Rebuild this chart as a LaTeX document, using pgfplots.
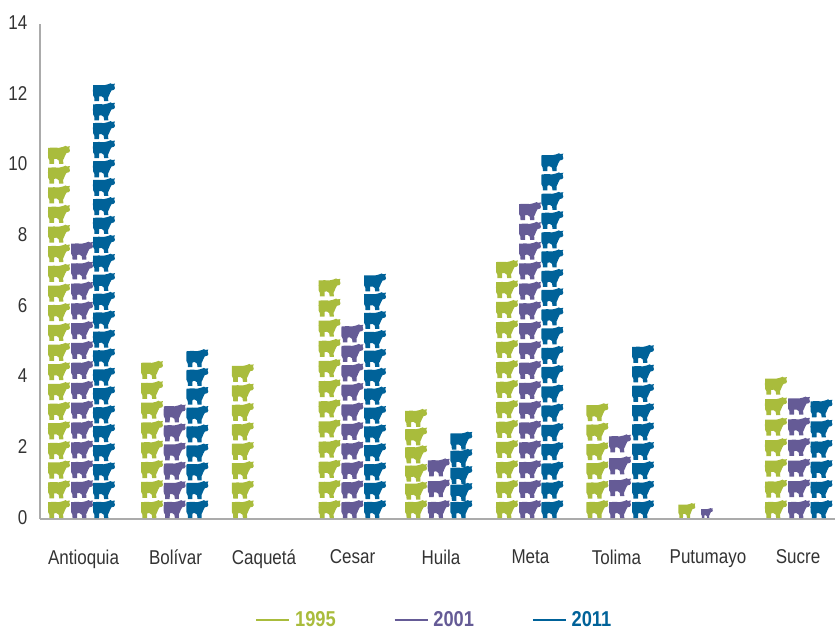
\documentclass[border=0pt]{standalone}
\usepackage{fontspec}
\setmainfont[FakeStretch=0.85]{Liberation Sans}
\usepackage{pgfplots}
\pgfplotsset{compat=1.18}
\definecolor{cg}{HTML}{A9BC3C}
\definecolor{cp}{HTML}{655B96}
\definecolor{cb}{HTML}{006299}
\definecolor{axg}{HTML}{ABABAB}
\definecolor{txt}{HTML}{333333}
\newcommand{\cm}[2]{\pgfpathmoveto{\pgfqpoint{#1pt}{#2pt}}}
\newcommand{\cl}[2]{\pgfpathlineto{\pgfqpoint{#1pt}{#2pt}}}
\pgfdeclareplotmark{cow}{%
 \cm{-10.8}{7}\cl{-5}{7.2}\cl{0}{7}\cl{3.5}{7.8}\cl{5.5}{8.5}\cl{6.5}{9}\cl{8}{8.2}\cl{11}{8.6}
 \cl{10.3}{6.8}\cl{11}{4}\cl{10}{2.4}\cl{7.5}{1.8}\cl{6}{-1}\cl{5}{-3.5}\cl{4.2}{-5}\cl{4.3}{-9}
 \cl{0.2}{-9}\cl{-0.3}{-5.5}\cl{-2.5}{-4}\cl{-4.8}{-4.2}\cl{-5}{-9}\cl{-9.5}{-9}
 \cl{-9.6}{-5.5}\cl{-10.9}{-3}\cl{-11}{2}\pgfpathclose\pgfusepathqfill}
\begin{document}
\begin{tikzpicture}
\path[use as bounding box] (-40pt,-110pt) rectangle (795pt,24pt+495pt);
\begin{axis}[
 at={(0pt,0pt)},anchor=south west,
 scale only axis,width=795pt,height=495pt,
 xmin=-0.48,xmax=8.393,ymin=0,ymax=14,
 axis x line=bottom,axis y line=left,
 axis line style={axg,line width=1.1pt,-},
 tick style={draw=none},
 clip=false,
 ytick={0,2,...,14},
 xtick={0.006,1.032,2.02,3.008,3.996,4.994,5.954,6.975,7.98},
 xticklabels={Antioquia,Bolívar,Caquetá,Cesar,Huila,Meta,Tolima,Putumayo,Sucre},
 /pgf/number format/assume math mode=true,
 tick label style={font=\fontsize{20}{24}\selectfont,text=txt},
 xticklabel style={yshift=-25pt},
 yticklabel style={xshift=-7pt,yshift=1.5pt},
 legend columns=3,
 legend style={at={(0.498,-0.204)},anchor=center,draw=none,fill=none,
   font=\fontsize{21.5}{25}\selectfont\bfseries,
   nodes={inner xsep=5pt},
   /tikz/every even column/.append style={column sep=53pt}},
 legend image code/.code={\draw[#1,mark=none,line width=1.6pt] (0pt,0pt) -- (33pt,0pt);},
]
\addplot[only marks,mark=cow,color=cg,mark options={fill=cg,draw=none}] coordinates {
 (-0.268,.28)(-0.268,.84)(-0.268,1.40)(-0.268,1.95)(-0.268,2.51)(-0.268,3.06)(-0.268,3.62)(-0.268,4.18)(-0.268,4.73)(-0.268,5.29)(-0.268,5.85)(-0.268,6.40)(-0.268,6.96)(-0.268,7.52)(-0.268,8.07)(-0.268,8.63)(-0.268,9.18)(-0.268,9.74)(-0.268,10.30)
 (0.770,.28)(0.770,.85)(0.770,1.41)(0.770,1.97)(0.770,2.53)(0.770,3.09)(0.770,3.65)(0.770,4.22)
 (1.783,.28)(1.783,.83)(1.783,1.38)(1.783,1.93)(1.783,2.48)(1.783,3.03)(1.783,3.58)(1.783,4.13)
 (2.751,.28)(2.751,.85)(2.751,1.42)(2.751,1.99)(2.751,2.56)(2.751,3.13)(2.751,3.70)(2.751,4.27)(2.751,4.84)(2.751,5.41)(2.751,5.98)(2.751,6.55)
 (3.717,.28)(3.717,.80)(3.717,1.31)(3.717,1.83)(3.717,2.34)(3.717,2.86)
 (4.732,.28)(4.732,.85)(4.732,1.41)(4.732,1.98)(4.732,2.55)(4.732,3.11)(4.732,3.68)(4.732,4.24)(4.732,4.81)(4.732,5.37)(4.732,5.94)(4.732,6.50)(4.732,7.07)
 (5.740,.28)(5.740,.83)(5.740,1.38)(5.740,1.92)(5.740,2.47)(5.740,3.02)
 (7.734,.28)(7.734,.86)(7.734,1.45)(7.734,2.03)(7.734,2.61)(7.734,3.19)(7.734,3.77)
};
\addlegendentry{\textcolor{cg}{1995}}
\addplot[only marks,mark=cow,color=cp,mark options={fill=cp,draw=none}] coordinates {
 (-0.011,.28)(-0.011,.85)(-0.011,1.41)(-0.011,1.97)(-0.011,2.53)(-0.011,3.09)(-0.011,3.65)(-0.011,4.22)(-0.011,4.78)(-0.011,5.34)(-0.011,5.90)(-0.011,6.46)(-0.011,7.03)(-0.011,7.59)
 (1.023,.28)(1.023,.82)(1.023,1.37)(1.023,1.91)(1.023,2.45)(1.023,2.99)
 (3.006,.28)(3.006,.84)(3.006,1.39)(3.006,1.94)(3.006,2.49)(3.006,3.04)(3.006,3.60)(3.006,4.15)(3.006,4.70)(3.006,5.25)
 (3.970,.28)(3.970,.87)(3.970,1.46)
 (4.989,.28)(4.989,.85)(4.989,1.41)(4.989,1.97)(4.989,2.53)(4.989,3.09)(4.989,3.65)(4.989,4.22)(4.989,4.78)(4.989,5.34)(4.989,5.90)(4.989,6.46)(4.989,7.03)(4.989,7.59)(4.989,8.15)(4.989,8.71)
 (5.993,.28)(5.993,.90)(5.993,1.52)(5.993,2.14)
 (7.991,.28)(7.991,.87)(7.991,1.45)(7.991,2.04)(7.991,2.62)(7.991,3.21)
};
\addlegendentry{\textcolor{cp}{2001}}
\addplot[only marks,mark=cow,color=cb,mark options={fill=cb,draw=none}] coordinates {
 (0.234,.28)(0.234,.82)(0.234,1.35)(0.234,1.89)(0.234,2.43)(0.234,2.96)(0.234,3.50)(0.234,4.03)(0.234,4.57)(0.234,5.10)(0.234,5.64)(0.234,6.17)(0.234,6.71)(0.234,7.25)(0.234,7.78)(0.234,8.32)(0.234,8.85)(0.234,9.39)(0.234,9.92)(0.234,10.46)(0.234,11.00)(0.234,11.53)(0.234,12.07)
 (1.276,.28)(1.276,.82)(1.276,1.35)(1.276,1.88)(1.276,2.42)(1.276,2.95)(1.276,3.49)(1.276,4.02)(1.276,4.55)
 (3.259,.28)(3.259,.82)(3.259,1.35)(3.259,1.89)(3.259,2.42)(3.259,2.95)(3.259,3.49)(3.259,4.02)(3.259,4.56)(3.259,5.09)(3.259,5.63)(3.259,6.16)(3.259,6.69)
 (4.222,.28)(4.222,.77)(4.222,1.25)(4.222,1.73)(4.222,2.22)
 (5.238,.28)(5.238,.83)(5.238,1.37)(5.238,1.92)(5.238,2.46)(5.238,3.01)(5.238,3.55)(5.238,4.10)(5.238,4.64)(5.238,5.19)(5.238,5.73)(5.238,6.28)(5.238,6.82)(5.238,7.37)(5.238,7.91)(5.238,8.46)(5.238,9.00)(5.238,9.55)(5.238,10.09)
 (6.250,.28)(6.250,.83)(6.250,1.38)(6.250,1.93)(6.250,2.48)(6.250,3.02)(6.250,3.57)(6.250,4.12)(6.250,4.67)
 (8.242,.28)(8.242,.85)(8.242,1.42)(8.242,1.99)(8.242,2.56)(8.242,3.13)
};
\addlegendentry{\textcolor{cb}{2011}}
\addplot[forget plot,only marks,mark=cow,color=cg,mark options={fill=cg,draw=none,xscale=.77,yscale=.83}] coordinates {(6.739,.24)};
\addplot[forget plot,only marks,mark=cow,color=cp,mark options={fill=cp,draw=none,xscale=.53,yscale=.55}] coordinates {(6.964,.17)};
\end{axis}
\end{tikzpicture}
\end{document}
